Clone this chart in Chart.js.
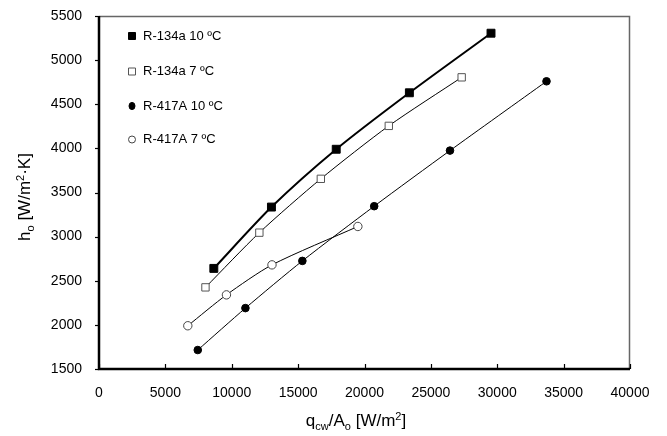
<!DOCTYPE html>
<html><head><meta charset="utf-8">
<script src="https://cdn.jsdelivr.net/npm/chart.js@4/dist/chart.umd.min.js"></script>
<style>html,body{margin:0;padding:0;background:#fff}canvas{display:block}</style>
</head><body>
<canvas id="c" width="667" height="436"></canvas>
<script>
// Data
const seriesNames = ['R-134a 10 ºC', 'R-134a 7 ºC', 'R-417A 10 ºC', 'R-417A 7 ºC'];
const r134a10_x = [8650, 12990, 17870, 23380, 29530];
const r134a10_y = [2640, 3335, 3990, 4630, 5305];
const r134a7_x  = [8020, 12080, 16710, 21830, 27320];
const r134a7_y  = [2425, 3045, 3655, 4255, 4805];
const r417a10_x = [7440, 11030, 15320, 20730, 26440, 33710];
const r417a10_y = [1715, 2190, 2725, 3345, 3975, 4760];
const r417a7_x  = [6690, 9600, 13030, 19500];
const r417a7_y  = [1990, 2340, 2680, 3115];
const xTicks = [0, 5000, 10000, 15000, 20000, 25000, 30000, 35000, 40000];
const yTicks = [1500, 2000, 2500, 3000, 3500, 4000, 4500, 5000, 5500];

const FONT = '"Liberation Sans", Arial, sans-serif';
const pts = (xs, ys) => xs.map((x, i) => ({x: x, y: ys[i]}));

const styles = [
  {pointStyle: 'rect', fill: '#000', stroke: '#000', radius: 5.6, lw: 2},
  {pointStyle: 'rect', fill: '#fff', stroke: '#555', radius: 5.2, lw: 1},
  {pointStyle: 'circle', fill: '#000', stroke: '#000', radius: 3.8, lw: 1},
  {pointStyle: 'circle', fill: '#fff', stroke: '#444', radius: 4.2, lw: 1}
];
const dataSets = [pts(r134a10_x, r134a10_y), pts(r134a7_x, r134a7_y), pts(r417a10_x, r417a10_y), pts(r417a7_x, r417a7_y)];

function drawRich(ctx, parts, size) {
  let w = 0;
  parts.forEach(p => {
    ctx.font = (p.sub || p.sup ? Math.round(size * 0.65) : size) + 'px ' + FONT;
    p.w = ctx.measureText(p.t).width; w += p.w;
  });
  let x = -w / 2;
  parts.forEach(p => {
    const s = p.sub || p.sup ? Math.round(size * 0.65) : size;
    ctx.font = s + 'px ' + FONT;
    const dy = p.sub ? size * 0.25 : (p.sup ? -size * 0.38 : 0);
    ctx.fillText(p.t, x, dy);
    x += p.w;
  });
}

const decor = {
  id: 'decor',
  afterDatasetsDraw(chart) {
    const ctx = chart.ctx, a = chart.chartArea;
    const xs = chart.scales.x, ys = chart.scales.y;
    ctx.save();
    ctx.strokeStyle = '#666'; ctx.lineWidth = 1.5;
    ctx.beginPath(); ctx.moveTo(a.left, a.top + 0.5); ctx.lineTo(a.right - 0.5, a.top + 0.5); ctx.lineTo(a.right - 0.5, a.bottom); ctx.stroke();
    ctx.strokeStyle = '#000'; ctx.lineWidth = 2.5;
    ctx.beginPath(); ctx.moveTo(a.left, a.top); ctx.lineTo(a.left, a.bottom); ctx.lineTo(a.right, a.bottom); ctx.stroke();
    ctx.lineWidth = 1.2;
    xTicks.forEach(v => { const px = Math.round(xs.getPixelForValue(v)) + 0.5; ctx.beginPath(); ctx.moveTo(px, a.bottom); ctx.lineTo(px, a.bottom - 5); ctx.stroke(); });
    yTicks.forEach(v => { const py = Math.round(ys.getPixelForValue(v)) + 0.5; ctx.beginPath(); ctx.moveTo(a.left, py); ctx.lineTo(a.left - 4, py); ctx.stroke(); });
    const rowsY = [36, 71.5, 106, 139.5];
    seriesNames.forEach((n, i) => {
      const st = styles[i], cx = 132, cy = rowsY[i];
      ctx.fillStyle = st.fill; ctx.strokeStyle = st.stroke; ctx.lineWidth = 1;
      ctx.beginPath();
      if (st.pointStyle === 'rect') ctx.rect(cx - 3.5, cy - 3.5, 7, 7);
      else if (i === 2) ctx.ellipse(cx, cy, 3, 3.6, 0, 0, Math.PI * 2);
      else ctx.arc(cx, cy, 3.5, 0, Math.PI * 2);
      ctx.fill(); ctx.stroke();
      ctx.fillStyle = '#000'; ctx.font = '13px ' + FONT; ctx.textBaseline = 'middle'; ctx.textAlign = 'left';
      ctx.fillText(n, 143, cy);
    });
    ctx.fillStyle = '#000'; ctx.textBaseline = 'alphabetic'; ctx.textAlign = 'left';
    ctx.save(); ctx.translate(356, 426);
    drawRich(ctx, [{t: 'q'}, {t: 'cw', sub: true}, {t: '/A'}, {t: 'o', sub: true}, {t: ' [W/m'}, {t: '2', sup: true}, {t: ']'}], 17);
    ctx.restore();
    ctx.save(); ctx.translate(30, 197); ctx.rotate(-Math.PI / 2);
    drawRich(ctx, [{t: 'h'}, {t: 'o', sub: true}, {t: ' [W/m'}, {t: '2', sup: true}, {t: '·K]'}], 17);
    ctx.restore();
    ctx.restore();
  }
};

new Chart(document.getElementById('c'), {
  type: 'scatter',
  data: {
    datasets: dataSets.map((d, i) => ({
      label: seriesNames[i],
      data: d,
      showLine: true,
      tension: 0.25,
      borderColor: '#000',
      borderWidth: styles[i].lw,
      pointStyle: styles[i].pointStyle,
      pointRadius: styles[i].radius,
      pointBackgroundColor: styles[i].fill,
      pointBorderColor: styles[i].stroke,
      pointBorderWidth: 1
    }))
  },
  options: {
    responsive: false,
    animation: false,
    devicePixelRatio: 1,
    layout: {padding: {top: 16, right: 37, left: 0, bottom: 0}},
    plugins: {legend: {display: false}, tooltip: {enabled: false}},
    scales: {
      x: {
        type: 'linear', min: 0, max: 40000,
        afterBuildTicks: s => { s.ticks = xTicks.map(v => ({value: v})); },
        afterFit: s => { s.height = 67; s.paddingLeft = 0; s.paddingRight = 0; },
        grid: {display: false, drawTicks: false},
        border: {display: false},
        ticks: {color: '#000', font: {family: FONT, size: 14}, padding: 16, maxRotation: 0, autoSkip: false, callback: v => String(v)}
      },
      y: {
        type: 'linear', min: 1500, max: 5500,
        afterBuildTicks: s => { s.ticks = yTicks.map(v => ({value: v})); },
        afterFit: s => { s.width = 99; s.paddingTop = 0; s.paddingBottom = 0; },
        grid: {display: false, drawTicks: false},
        border: {display: false},
        ticks: {color: '#000', font: {family: FONT, size: 14}, padding: 17, autoSkip: false, callback: v => String(v)}
      }
    }
  },
  plugins: [decor]
});
</script>
</body></html>
